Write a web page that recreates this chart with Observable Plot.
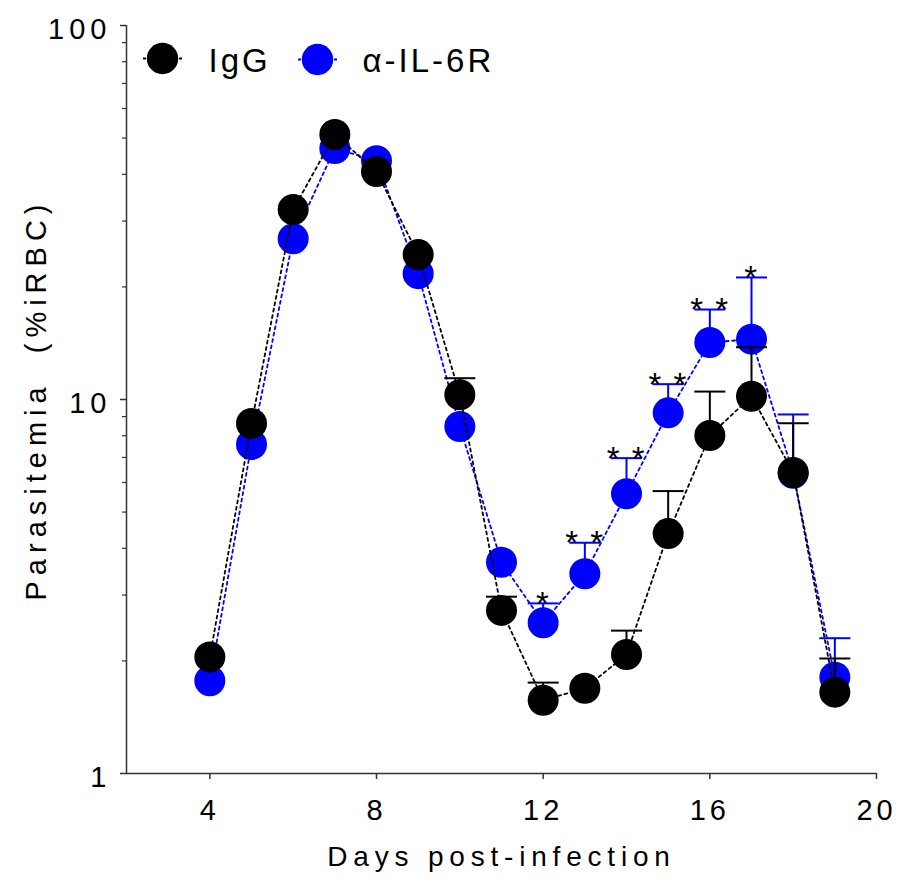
<!DOCTYPE html>
<html><head><meta charset="utf-8">
<script src="https://cdn.jsdelivr.net/npm/d3@7"></script>
<script src="https://cdn.jsdelivr.net/npm/@observablehq/plot@0.6"></script>
<style>
body{margin:0;background:#fff}
#chart text{white-space:pre}
#chart g[aria-label="y-axis tick label"] text{letter-spacing:5px}
#chart g[aria-label="x-axis tick label"] text{letter-spacing:4px}
</style></head><body><div id="chart"></div><script>
const days = [4,5,6,7,8,9,10,11,12,13,14,15,16,17,18,19];
const igg = [2.05,8.63,32.2,51.1,40.7,24.4,10.3,2.73,1.57,1.69,2.08,4.38,8.01,10.2,6.38,1.65];
const iggUpper = [null,null,null,null,null,null,11.4,2.97,1.75,null,2.41,5.69,10.5,13.8,8.64,2.03];
const il6r = [1.77,7.58,26.9,46.9,43.5,21.7,8.47,3.67,2.53,3.42,5.60,9.21,14.2,14.5,6.35,1.81];
const il6rUpper = [null,null,null,null,null,null,null,null,2.85,4.14,6.97,10.99,17.4,21.2,9.12,2.30];
const starDays = [12,13,14,15,16,17];
const starLabels = ["*","* *","* *","* *","* *","*"];
const xTicks = [4,8,12,16,20];
const yMajor = [1,10,100];
const yMinor = [2,3,4,5,6,7,8,9,20,30,40,50,60,70,80,90];
const seriesNames = ["IgG","\u03b1-IL-6R"];
const xLabel = "Days post-infection";
const yLabel = "Parasitemia  (%iRBC)";

const BLUE = "#0000ff", BLACK = "#000000";
const iggRows = days.map((d,i)=>({day:d, v:igg[i], up:iggUpper[i]}));
const il6rRows = days.map((d,i)=>({day:d, v:il6r[i], up:il6rUpper[i]}));
const stars = starDays.map((d,i)=>({day:d, up:il6rUpper[days.indexOf(d)], label:starLabels[i]}));

const capSym = {draw(ctx){ctx.moveTo(-15.5,0);ctx.lineTo(15.5,0);}};
const legSym = {draw(ctx){ctx.moveTo(-19.5,0);ctx.lineTo(19.5,0);}};
const dash = "3,3.5";

const plot = Plot.plot({
  width: 912, height: 885,
  marginLeft: 126, marginRight: 36, marginTop: 25, marginBottom: 112,
  style: {fontFamily: "'Liberation Sans', Arial, Helvetica, sans-serif", fontSize: "29px", color: "#000", background: "#fff"},
  x: {domain: [2,20]},
  y: {type: "log", domain: [1,100]},
  marks: [
    Plot.ruleX([2], {stroke: "#333", strokeWidth: 1.5}),
    Plot.ruleY([1], {stroke: "#333", strokeWidth: 1.5}),
    Plot.axisX(xTicks, {tickSize: 6, tickPadding: 20, fontSize: 29, label: null, stroke: "#333", strokeWidth: 1.5}),
    Plot.axisY(yMinor, {tickSize: 4, tickFormat: () => "", label: null, stroke: "#333", strokeWidth: 1.2}),
    Plot.axisY(yMajor, {tickSize: 6, tickFormat: () => "", label: null, stroke: "#333", strokeWidth: 1.5}),
    Plot.axisY(yMajor, {tickSize: 0, tickPadding: 15, dy: 4, fontSize: 29, label: null, tickFormat: d => String(d)}),
    Plot.text([yLabel], {x: null, y: null, text: d => d, frameAnchor: "left", textAnchor: "middle", lineAnchor: "middle", dx: -90, rotate: -90, fontSize: 29, ariaDescription: "ylabel"}),
    Plot.text([xLabel], {x: null, y: null, text: d => d, frameAnchor: "bottom", textAnchor: "middle", lineAnchor: "middle", dy: 84, fontSize: 28, ariaDescription: "xlabel"}),
    // alpha-IL-6R
    Plot.line(il6rRows, {x: "day", y: "v", stroke: BLUE, strokeWidth: 1.8, strokeDasharray: dash}),
    Plot.ruleX(il6rRows.filter(r => r.up != null), {x: "day", y1: "v", y2: "up", stroke: BLUE, strokeWidth: 2}),
    Plot.dot(il6rRows.filter(r => r.up != null), {x: "day", y: "up", symbol: capSym, fill: "none", stroke: BLUE, strokeWidth: 2}),
    Plot.dot(il6rRows, {x: "day", y: "v", r: 15.5, fill: BLUE}),
    // IgG
    Plot.line(iggRows, {x: "day", y: "v", stroke: BLACK, strokeWidth: 1.8, strokeDasharray: dash}),
    Plot.ruleX(iggRows.filter(r => r.up != null), {x: "day", y1: "v", y2: "up", stroke: BLACK, strokeWidth: 2}),
    Plot.dot(iggRows.filter(r => r.up != null), {x: "day", y: "up", symbol: capSym, fill: "none", stroke: BLACK, strokeWidth: 2}),
    Plot.dot(iggRows, {x: "day", y: "v", r: 15.5, fill: BLACK}),
    // stars
    Plot.text(stars, {x: "day", y: "up", text: "label", fontSize: 33, dy: 1, fill: BLACK, ariaDescription: "stars"}),
    // legend
    Plot.dot([0], {x: null, y: null, frameAnchor: "top-left", dx: 36, dy: 33, symbol: legSym, fill: "none", stroke: BLACK, strokeWidth: 2, strokeDasharray: "3,3"}),
    Plot.dot([0], {x: null, y: null, frameAnchor: "top-left", dx: 36, dy: 33, r: 15.7, fill: BLACK}),
    Plot.text([seriesNames[0]], {x: null, y: null, text: d => d, frameAnchor: "top-left", dx: 82, dy: 36, textAnchor: "start", lineAnchor: "middle", fontSize: 33, ariaDescription: "legendtext"}),
    Plot.dot([0], {x: null, y: null, frameAnchor: "top-left", dx: 191, dy: 34, symbol: legSym, fill: "none", stroke: BLUE, strokeWidth: 2, strokeDasharray: "3,3"}),
    Plot.dot([0], {x: null, y: null, frameAnchor: "top-left", dx: 191, dy: 34, r: 15.7, fill: BLUE}),
    Plot.text([seriesNames[1]], {x: null, y: null, text: d => d, frameAnchor: "top-left", dx: 236, dy: 36, textAnchor: "start", lineAnchor: "middle", fontSize: 33, ariaDescription: "legendtext"})
  ]
});
document.getElementById("chart").appendChild(plot);
const spacing = {ylabel: "6px", xlabel: "5.8px", legendtext: "3px", stars: "1.5px"};
d3.select(plot).selectAll("g[aria-description]").each(function() {
  const key = this.getAttribute("aria-description");
  if (spacing[key] != null) d3.select(this).selectAll("text").style("letter-spacing", spacing[key]);
});
</script></body></html>
